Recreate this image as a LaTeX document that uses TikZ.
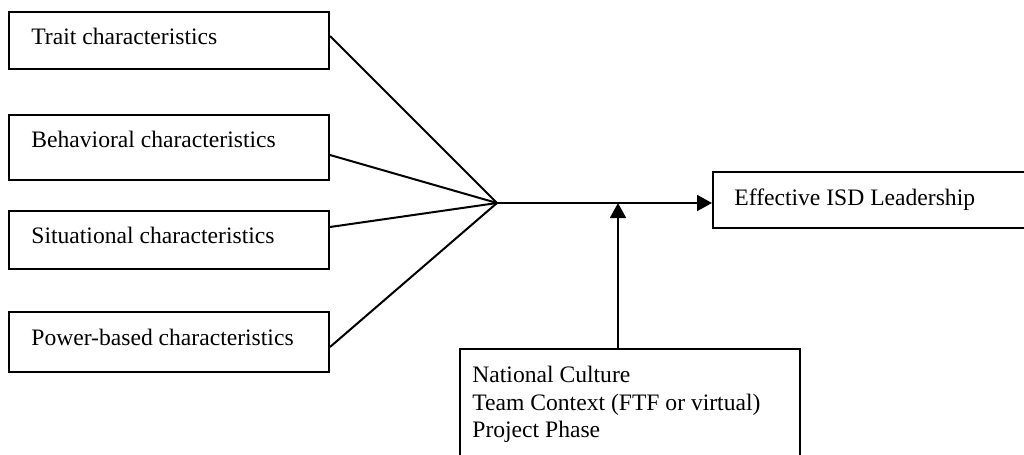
\documentclass[tikz,border=0pt]{standalone}
\usepackage{fontspec}
\setmainfont{Liberation Serif}
\usetikzlibrary{arrows.meta}
\begin{document}
\begin{tikzpicture}[x=0.5pt,y=-0.5pt,
  box/.style={draw,line width=1pt,rectangle,inner sep=0pt,minimum width=160pt},
  lbl/.style={anchor=base west,inner sep=0pt,font=\fontsize{11.8}{13.75}\selectfont},
  conn/.style={line width=1pt},
  arr/.style={line width=1pt,-{Triangle[length=7.5pt,width=8pt]}}]
\useasboundingbox (0,0) rectangle (1024,455);
\clip (0,0) rectangle (1024,455);
\fill[white] (0,0) rectangle (1024,455);
% left boxes
\node[box,minimum height=28.5pt] (b1) at (169,40.5) {};
\node[box,minimum height=32.5pt] (b2) at (169,147.5) {};
\node[box,minimum height=29pt] (b3) at (169,240) {};
\node[box,minimum height=30pt] (b4) at (169,342) {};
\node[lbl] (t1) at (31,45) {Trait characteristics};
\node[lbl] (t2) at (31,147) {Behavioral characteristics};
\node[lbl] (t3) at (31,243) {Situational characteristics};
\node[lbl] (t4) at (31,345) {Power-based characteristics};
% outcome box
\node[box,minimum width=163.5pt,minimum height=28pt] (b5) at (876.5,200) {};
\node[lbl] (t5) at (734,205) {Effective ISD Leadership};
% moderator box
\node[box,minimum width=170pt,minimum height=61pt] (b6) at (630,410) {};
\node[lbl] (t6a) at (472,382) {National Culture};
\node[lbl] (t6b) at (472,410) {Team Context (FTF or virtual)};
\node[lbl] (t6c) at (472,437) {Project Phase};
% junction
\coordinate (j) at (497,203);
\coordinate (m) at (618,203);
\draw[conn] ([yshift=-12.5pt]b1.north east) -- (j);
\draw[conn] ([yshift=-20.5pt]b2.north east) -- (j);
\draw[conn] ([yshift=-8.5pt]b3.north east) -- (j);
\draw[conn] ([yshift=-18pt]b4.north east) -- (j);
\draw[arr] (j) -- (j -| b5.west);
\draw[arr] (b6.north -| m) -- (m);
\end{tikzpicture}
\end{document}
